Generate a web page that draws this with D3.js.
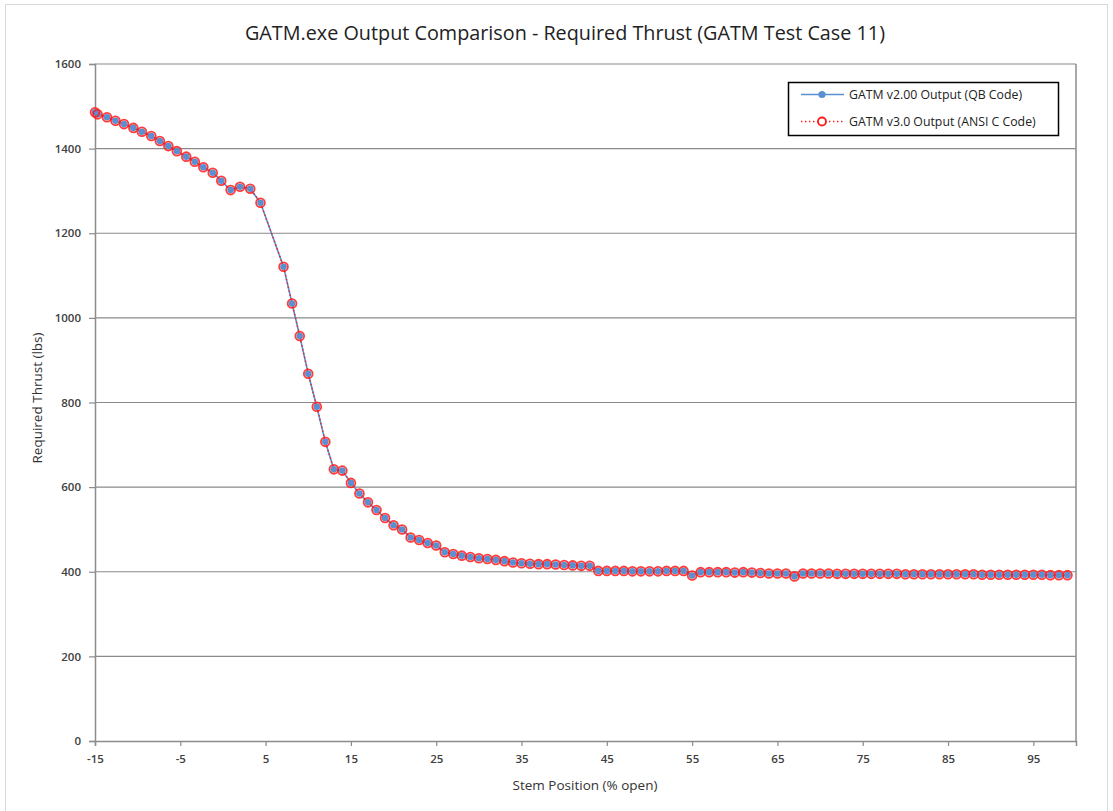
<!DOCTYPE html>
<html>
<head>
<meta charset="utf-8">
<script src="https://cdn.jsdelivr.net/npm/d3@7"></script>
<style>
    body { margin: 0; background: #ffffff; }
    text { font-family: "Open Sans", "Noto Sans", sans-serif; fill: #404040; }
</style>
</head>
<body>
<div id="canvas"></div>
<script>
"use strict"

/* Chart data */
let stemPosition = [
    -15, -14.7, -13.6, -12.6, -11.6, -10.5, -9.5, -8.4, -7.4, -6.4,
    -5.4, -4.3, -3.3, -2.3, -1.2, -0.2, 0.9, 2.0, 3.2, 4.4,
    7.1, 8.1, 9, 10, 11, 12, 13, 14, 15, 16,
    17, 18, 19, 20, 21, 22, 23, 24, 25, 26,
    27, 28, 29, 30, 31, 32, 33, 34, 35, 36,
    37, 38, 39, 40, 41, 42, 43, 44, 45, 46,
    47, 48, 49, 50, 51, 52, 53, 54, 55, 56,
    57, 58, 59, 60, 61, 62, 63, 64, 65, 66,
    67, 68, 69, 70, 71, 72, 73, 74, 75, 76,
    77, 78, 79, 80, 81, 82, 83, 84, 85, 86,
    87, 88, 89, 90, 91, 92, 93, 94, 95, 96,
    97, 98, 99
];

let thrustQB = [
    1486, 1481, 1474, 1466, 1458, 1449, 1440, 1430, 1418, 1406,
    1394, 1381, 1369, 1356, 1343, 1324, 1302, 1310, 1305, 1272,
    1121, 1034, 957, 868, 790, 707, 642, 639, 610, 585,
    564, 546, 527, 510, 500, 481, 475, 468, 462, 446,
    442, 438, 435, 432, 430, 428, 425, 422, 420, 419,
    418, 418, 417, 416, 415, 414, 414, 402, 402, 402,
    402, 401, 401, 401, 401, 402, 402, 402, 391, 399,
    399, 399, 399, 398, 399, 398, 397, 396, 396, 396,
    389, 396, 396, 396, 396, 395, 395, 395, 395, 395,
    395, 395, 395, 394, 394, 394, 394, 394, 394, 394,
    394, 394, 393, 393, 393, 393, 393, 393, 393, 393,
    392, 392, 392
];

let thrustANSI = [
    1486, 1481, 1474, 1466, 1458, 1449, 1440, 1430, 1418, 1406,
    1394, 1381, 1369, 1356, 1343, 1324, 1302, 1310, 1305, 1272,
    1121, 1034, 957, 868, 790, 707, 642, 639, 610, 585,
    564, 546, 527, 510, 500, 481, 475, 468, 462, 446,
    442, 438, 435, 432, 430, 428, 425, 422, 420, 419,
    418, 418, 417, 416, 415, 414, 414, 402, 402, 402,
    402, 401, 401, 401, 401, 402, 402, 402, 391, 399,
    399, 399, 399, 398, 399, 398, 397, 396, 396, 396,
    389, 396, 396, 396, 396, 395, 395, 395, 395, 395,
    395, 395, 395, 394, 394, 394, 394, 394, 394, 394,
    394, 394, 393, 393, 393, 393, 393, 393, 393, 393,
    392, 392, 392
];

let xTickValues = [-15, -5, 5, 15, 25, 35, 45, 55, 65, 75, 85, 95];
let yTickValues = [0, 200, 400, 600, 800, 1000, 1200, 1400, 1600];
let seriesNames = ["GATM v2.00 Output (QB Code)", "GATM v3.0 Output (ANSI C Code)"];

/* Configuration variables: drawing */
let svgWidth = 1113;
let svgHeight = 811;
let plotLeft = 95;
let plotRight = 1076;
let plotTop = 64;
let plotBottom = 741;
let blue = "#5b8fd0";
let red = "#ff1a1a";
let axisGray = "#8c8c8c";

let svg = d3.select("#canvas")
    .append("svg")
    .attr("width", svgWidth)
    .attr("height", svgHeight);

/* Outer chart border */
svg.append("rect")
    .attr("x", 5.5)
    .attr("y", 4.5)
    .attr("width", 1102)
    .attr("height", 810)
    .attr("fill", "white")
    .attr("stroke", "#d9d9d9");

let x = d3.scaleLinear()
    .domain([-15, 100])
    .range([plotLeft, plotRight]);

let y = d3.scaleLinear()
    .domain([0, 1600])
    .range([plotBottom, plotTop]);

/* Horizontal gridlines */
svg.append("g")
    .selectAll("line")
    .data(yTickValues.slice(1))
    .join("line")
    .attr("x1", plotLeft)
    .attr("x2", plotRight)
    .attr("y1", d => y(d))
    .attr("y2", d => y(d))
    .attr("stroke", "#8a8a8a")
    .attr("stroke-width", 1.2);

/* Right border of plot area */
svg.append("line")
    .attr("x1", plotRight)
    .attr("x2", plotRight)
    .attr("y1", plotTop)
    .attr("y2", plotBottom)
    .attr("stroke", axisGray)
    .attr("stroke-width", 1.5);

/* Axes, plain hyphen minus and no thousands separator as in the original */
let xAxis = svg.append("g")
    .attr("transform", "translate(0," + plotBottom + ")")
    .call(d3.axisBottom(x)
        .tickValues(xTickValues)
        .tickFormat(d => String(d))
        .tickSize(5)
        .tickPadding(9));

let yAxis = svg.append("g")
    .attr("transform", "translate(" + plotLeft + ",0)")
    .call(d3.axisLeft(y)
        .tickValues(yTickValues)
        .tickFormat(d => String(d))
        .tickSize(6)
        .tickPadding(8));

[xAxis, yAxis].forEach(function (axis) {
    axis.select(".domain").attr("stroke", axisGray).attr("stroke-width", 1.5);
    axis.selectAll(".tick line").attr("stroke", axisGray).attr("stroke-width", 1.2);
    axis.selectAll(".tick text")
        .attr("fill", "#333")
        .style("font-family", "'Open Sans', sans-serif")
        .style("font-size", "11.5px")
        .style("font-weight", "600");
});

/* Series lines */
let lineGen = d3.line()
    .x(d => x(d[0]))
    .y(d => y(d[1]));

let qbPoints = stemPosition.map((s, i) => [s, thrustQB[i]]);
let ansiPoints = stemPosition.map((s, i) => [s, thrustANSI[i]]);

svg.append("path")
    .datum(qbPoints)
    .attr("d", lineGen)
    .attr("fill", "none")
    .attr("stroke", blue)
    .attr("stroke-width", 1.6);

svg.append("path")
    .datum(ansiPoints)
    .attr("d", lineGen)
    .attr("fill", "none")
    .attr("stroke", red)
    .attr("stroke-width", 1.4)
    .attr("stroke-dasharray", "1.4,2.6");

/* Series markers */
svg.append("g")
    .selectAll("circle")
    .data(qbPoints)
    .join("circle")
    .attr("cx", d => x(d[0]))
    .attr("cy", d => y(d[1]))
    .attr("r", 3.3)
    .attr("fill", blue);

svg.append("g")
    .selectAll("circle")
    .data(ansiPoints)
    .join("circle")
    .attr("cx", d => x(d[0]))
    .attr("cy", d => y(d[1]))
    .attr("r", 4.4)
    .attr("fill", "none")
    .attr("stroke", red)
    .attr("stroke-opacity", 0.85)
    .attr("stroke-width", 1.8);

/* Title and axis labels */
svg.append("text")
    .attr("x", 565)
    .attr("y", 40)
    .attr("text-anchor", "middle")
    .style("font-size", "19.8px")
    .style("fill", "#222")
    .text("GATM.exe Output Comparison - Required Thrust (GATM Test Case 11)");

svg.append("text")
    .attr("x", 585)
    .attr("y", 790)
    .attr("text-anchor", "middle")
    .style("font-size", "13.5px")
    .style("fill", "#333")
    .text("Stem Position (% open)");

svg.append("text")
    .attr("transform", "translate(42,398) rotate(-90)")
    .attr("text-anchor", "middle")
    .style("font-size", "13.5px")
    .style("fill", "#333")
    .text("Required Thrust (lbs)");

/* Legend */
let legend = svg.append("g");

legend.append("rect")
    .attr("x", 788.5)
    .attr("y", 82.5)
    .attr("width", 270)
    .attr("height", 53)
    .attr("fill", "white")
    .attr("stroke", "black")
    .attr("stroke-width", 1.5);

let legendRows = [94.5, 121.5];

legend.append("line")
    .attr("x1", 801).attr("x2", 844)
    .attr("y1", legendRows[0]).attr("y2", legendRows[0])
    .attr("stroke", blue)
    .attr("stroke-width", 1.6);

legend.append("circle")
    .attr("cx", 822).attr("cy", legendRows[0])
    .attr("r", 3.6)
    .attr("fill", blue);

legend.append("line")
    .attr("x1", 801).attr("x2", 844)
    .attr("y1", legendRows[1]).attr("y2", legendRows[1])
    .attr("stroke", red)
    .attr("stroke-width", 1.4)
    .attr("stroke-dasharray", "1.4,2.6");

legend.append("circle")
    .attr("cx", 822).attr("cy", legendRows[1])
    .attr("r", 4)
    .attr("fill", "white")
    .attr("stroke", red)
    .attr("stroke-width", 1.8);

legend.selectAll("text.entry")
    .data(seriesNames)
    .join("text")
    .attr("class", "entry")
    .attr("x", 849)
    .attr("y", (d, i) => legendRows[i])
    .attr("dy", "0.35em")
    .style("font-size", "12.3px")
    .style("fill", "#222")
    .text(d => d);
</script>
</body>
</html>
